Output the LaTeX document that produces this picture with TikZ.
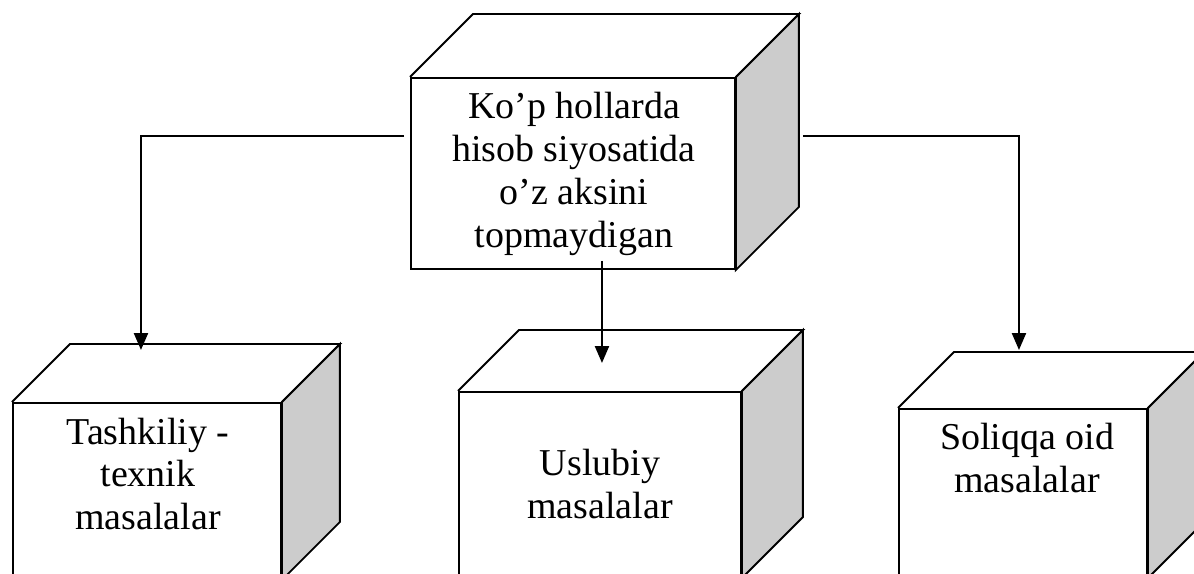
\documentclass[tikz,border=0pt]{standalone}
\usepackage{fontspec}
\setmainfont{Liberation Serif}
\usetikzlibrary{arrows.meta,calc}
\definecolor{sidegray}{RGB}{204,204,204}
\newdimen\px \px=0.2mm

\tikzset{
  front/.style={draw, line width=1.1pt, fill=white, anchor=north west, inner sep=0pt},
  side/.style={draw, line width=1.1pt, fill=sidegray},
  lbl/.style={align=center, inner sep=0pt, font=\fontsize{21.6}{24.4}\selectfont},
  link/.style={line width=1.3pt, -{Triangle[length=3.4mm,width=2.8mm]}},
}

% top and right faces of a box: node name, depth
\newcommand{\cubefaces}[2]{%
  \draw[line width=1.1pt] (#1.north west) -- ++(#2,-#2) -- ($(#1.north east)+(#2,-#2)$) -- (#1.north east);
  \filldraw[side] (#1.north east) -- ($(#1.north east)+(#2,-#2)$) -- ($(#1.south east)+(#2,-#2)$) -- (#1.south east) -- cycle;
}

\begin{document}
\begin{tikzpicture}[x=\px, y=-\px]
    \useasboundingbox (0,0) rectangle (1194,574);
    \clip (0,0) rectangle (1194,574);

    % boxes
    \node[front, minimum width=324\px, minimum height=191\px] (top) at (410,77) {};
    \cubefaces{top}{63}
    \node[front, minimum width=268\px, minimum height=176\px] (left) at (12,402) {};
    \cubefaces{left}{58}
    \node[front, minimum width=282\px, minimum height=185\px] (mid) at (458,391) {};
    \cubefaces{mid}{61}
    \node[front, minimum width=248\px, minimum height=168\px] (right) at (898,408) {};
    \cubefaces{right}{56}

    % texts
    \node[lbl] (toptext) at (574,174) {Ko’p hollarda\\hisob siyosatida\\o’z aksini\\topmaydigan};
    \node[lbl] (lefttext) at (148,474) {Tashkiliy -\\texnik\\masalalar};
    \node[lbl] (midtext) at (600,484) {Uslubiy\\masalalar};
    \node[lbl] (righttext) at (1027,458) {Soliqqa oid\\masalalar};

    % connectors
    \coordinate (lstart) at ($(top.north west)+(-6,59)$);
    \coordinate (rstart) at ($(top.north east)+(67,59)$);
    \coordinate (mstart) at ($(top.south)+(29,-9)$);
    \coordinate (ltip) at ($(left.north)+(-6,-52)$);
    \coordinate (mtip) at ($(mid.north)+(2,-28)$);
    \coordinate (rtip) at ($(right.north)+(-4,-58)$);
    \draw[link] (lstart) -| (ltip);
    \draw[link] (mstart) -- (mtip);
    \draw[link] (rstart) -| (rtip);
\end{tikzpicture}
\end{document}
